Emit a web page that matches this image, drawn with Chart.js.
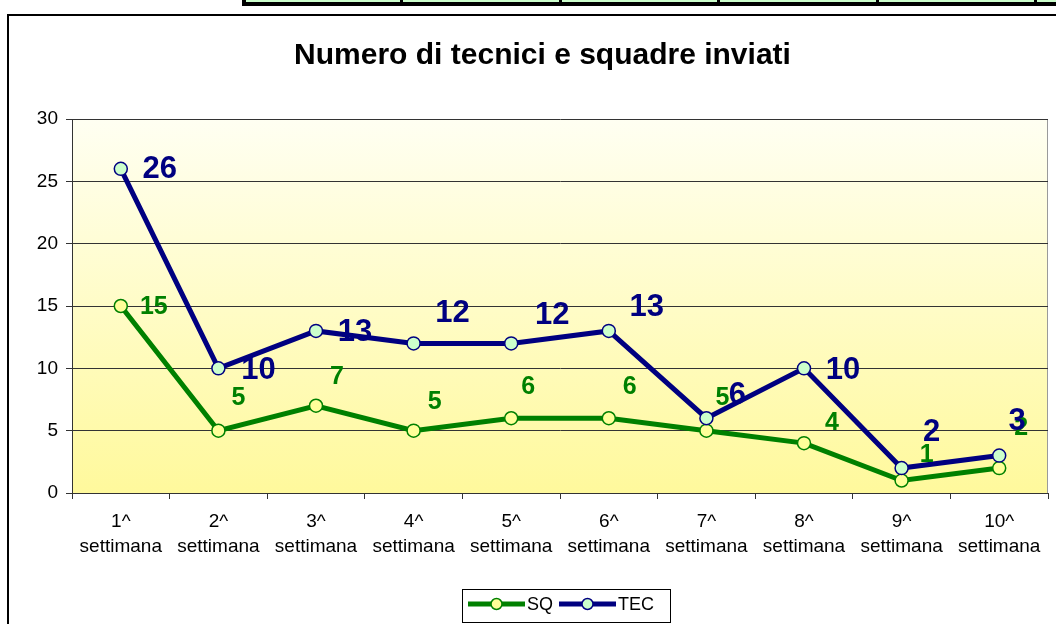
<!DOCTYPE html>
<html><head><meta charset="utf-8">
<script src="https://cdn.jsdelivr.net/npm/chart.js@4/dist/chart.umd.min.js"></script>
<style>
html,body{margin:0;padding:0;background:#fff;overflow:hidden;}
#wrap{position:relative;width:1056px;height:624px;overflow:hidden;background:#fff;}
#frame{position:absolute;left:7px;top:14px;width:1120px;height:700px;border:2px solid #000;box-sizing:border-box;}
#tbl{position:absolute;left:242px;top:0;width:900px;height:6px;background:#ccffcc;border-bottom:4px solid #000;border-left:4px solid #000;box-sizing:border-box;}
.sep{position:absolute;top:0;width:3px;height:6px;background:#000;}
canvas{position:absolute;left:0;top:0;}
</style></head>
<body>
<div id="wrap">
  <div id="tbl"></div>
  <div class="sep" style="left:400px"></div>
  <div class="sep" style="left:559px"></div>
  <div class="sep" style="left:717px"></div>
  <div class="sep" style="left:876px"></div>
  <div class="sep" style="left:1034px"></div>
  <div id="frame"></div>
  <canvas id="c" width="1056" height="624"></canvas>
</div>
<script>
// ---- data ----
const categories = [
  ['1^','settimana'], ['2^','settimana'], ['3^','settimana'], ['4^','settimana'], ['5^','settimana'],
  ['6^','settimana'], ['7^','settimana'], ['8^','settimana'], ['9^','settimana'], ['10^','settimana']
];
const sqValues  = [15, 5, 7, 5, 6, 6, 5, 4, 1, 2];
const tecValues = [26, 10, 13, 12, 12, 13, 6, 10, 2, 3];
const yTicks = [0, 5, 10, 15, 20, 25, 30];
const chartTitle = 'Numero di tecnici e squadre inviati';
const seriesNames = ['SQ', 'TEC'];

// ---- label placement (style, pixel offsets from each point) ----
const sqLabelOffsets  = [[33,1],[20,-33],[21,-29],[21,-29],[17,-31],[21,-31],[16,-33],[28,-20],[25,-25],[22,-40]];
const tecLabelOffsets = [[39,1],[40,2],[39,2],[39,-30],[41,-28],[38,-23],[31,-23],[39,2],[30,-36],[18,-34]];

const FONT = "'Liberation Sans', Arial, Helvetica, sans-serif";

const bgPlugin = {
  id: 'bg',
  beforeDraw(chart) {
    const {ctx, chartArea: a} = chart;
    const g = ctx.createLinearGradient(0, a.top, 0, a.bottom);
    g.addColorStop(0, '#fffff2');
    g.addColorStop(1, '#fff99c');
    ctx.save();
    ctx.fillStyle = g;
    ctx.fillRect(a.left, a.top, a.right - a.left, a.bottom - a.top);
    ctx.strokeStyle = '#9a9a9a';
    ctx.lineWidth = 1;
    ctx.beginPath();
    ctx.moveTo(a.right - 0.5, a.top);
    ctx.lineTo(a.right - 0.5, a.bottom);
    ctx.stroke();
    ctx.restore();
  }
};

const labelPlugin = {
  id: 'vlabels',
  afterDatasetsDraw(chart) {
    const ctx = chart.ctx;
    const specs = [
      {ds: 0, offs: sqLabelOffsets, font: 'bold 25px ' + FONT, color: '#008000'},
      {ds: 1, offs: tecLabelOffsets, font: 'bold 31px ' + FONT, color: '#000080'}
    ];
    ctx.save();
    ctx.textAlign = 'center';
    ctx.textBaseline = 'middle';
    specs.forEach(s => {
      const meta = chart.getDatasetMeta(s.ds);
      const vals = chart.data.datasets[s.ds].data;
      ctx.font = s.font;
      ctx.fillStyle = s.color;
      meta.data.forEach((pt, i) => {
        ctx.fillText(String(vals[i]), pt.x + s.offs[i][0], pt.y + s.offs[i][1]);
      });
    });
    ctx.restore();
  }
};

const legendPlugin = {
  id: 'boxlegend',
  afterDraw(chart) {
    const ctx = chart.ctx;
    const lx = 462, ly = 589, lw = 208, lh = 33;
    const cy = 604;
    ctx.save();
    ctx.strokeStyle = '#000';
    ctx.lineWidth = 1;
    ctx.strokeRect(lx + 0.5, ly + 0.5, lw, lh);
    ctx.font = '18px ' + FONT;
    ctx.textBaseline = 'middle';
    ctx.textAlign = 'left';
    let x = lx + 6;
    chart.data.datasets.forEach(ds => {
      ctx.strokeStyle = ds.borderColor;
      ctx.lineWidth = 5;
      ctx.beginPath();
      ctx.moveTo(x, cy);
      ctx.lineTo(x + 57, cy);
      ctx.stroke();
      ctx.beginPath();
      ctx.arc(x + 28.5, cy, 5.5, 0, Math.PI * 2);
      ctx.fillStyle = ds.pointBackgroundColor;
      ctx.fill();
      ctx.lineWidth = 1.5;
      ctx.strokeStyle = ds.pointBorderColor;
      ctx.stroke();
      ctx.fillStyle = '#000';
      ctx.fillText(ds.label, x + 59, cy + 1);
      x += 59 + ctx.measureText(ds.label).width + 6;
    });
    ctx.restore();
  }
};

new Chart(document.getElementById('c'), {
  type: 'line',
  data: {
    labels: categories,
    datasets: [
      {
        label: seriesNames[0], data: sqValues, order: 1,
        borderColor: '#008000', borderWidth: 5,
        pointBackgroundColor: '#ffff99', pointBorderColor: '#008000',
        pointRadius: 6.5, pointBorderWidth: 1.5, tension: 0, fill: false
      },
      {
        label: seriesNames[1], data: tecValues, order: 0,
        borderColor: '#000080', borderWidth: 5,
        pointBackgroundColor: '#ccffcc', pointBorderColor: '#000080',
        pointRadius: 6.5, pointBorderWidth: 1.5, tension: 0, fill: false
      }
    ]
  },
  options: {
    responsive: false,
    animation: false,
    devicePixelRatio: 1,
    layout: { padding: { left: 37, right: 8, top: 0, bottom: 0 } },
    plugins: {
      legend: { display: false },
      tooltip: { enabled: false },
      title: {
        display: true, text: chartTitle, color: '#000',
        font: { family: FONT, size: 30, weight: 'bold', lineHeight: 1.2 },
        padding: { top: 38, bottom: 45 }
      }
    },
    scales: {
      x: {
        offset: true,
        grid: { offset: true, drawOnChartArea: false, drawTicks: true, tickLength: 6, color: '#333' },
        border: { display: true, color: '#333', width: 1 },
        ticks: { font: { family: FONT, size: 19, lineHeight: 1.32 }, color: '#000', padding: 10, maxRotation: 0, autoSkip: false },
        afterFit(s) { s.height = 131; }
      },
      y: {
        min: yTicks[0], max: yTicks[yTicks.length - 1],
        afterBuildTicks(s) { s.ticks = yTicks.map(v => ({ value: v })); },
        ticks: { font: { family: FONT, size: 19 }, color: '#000', padding: 8 },
        grid: { color: '#333', lineWidth: 1, tickLength: 6, drawTicks: true },
        border: { display: true, color: '#333', width: 1 },
        afterFit(s) { s.width = 35; }
      }
    }
  },
  plugins: [bgPlugin, labelPlugin, legendPlugin]
});
</script>
</body></html>
